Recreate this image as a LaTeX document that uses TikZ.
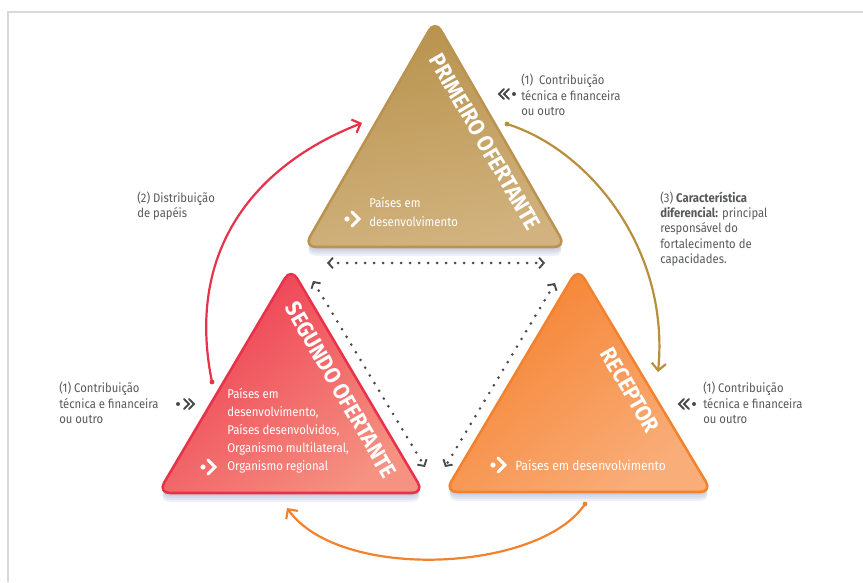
\documentclass[tikz,border=0pt]{standalone}
\usepackage{fontspec}
\setmainfont{Fira Sans}[FakeStretch=0.9]
\usetikzlibrary{arrows.meta}
\definecolor{goldA}{HTML}{B8924C}
\definecolor{goldB}{HTML}{D2B37F}
\definecolor{goldE}{HTML}{BA9350}
\definecolor{goldL}{HTML}{B8903C}
\definecolor{redA}{HTML}{EE3B51}
\definecolor{redB}{HTML}{F59281}
\definecolor{redE}{HTML}{E8324A}
\definecolor{orA}{HTML}{F5812E}
\definecolor{orB}{HTML}{F9AE7A}
\definecolor{orE}{HTML}{F3822F}
\definecolor{txtgray}{HTML}{58595B}
\definecolor{dotgray}{HTML}{4A4A4A}
\definecolor{framegray}{HTML}{DDD8D8}
\definecolor{shadowblue}{HTML}{7080B8}
\begin{document}
\begin{tikzpicture}[x=0.75pt,y=-0.75pt,
  tri/.style={line width=1.9pt, rounded corners=9pt, line join=round},
  shade/.style={fill=shadowblue, fill opacity=0.10, draw=none, rounded corners=9pt},
  sidetext/.style={text=txtgray, font=\fontsize{9.4}{11.6}\selectfont, align=left, anchor=west, inner sep=0pt},
  intext/.style={text=white, font=\fontsize{9.5}{13.6}\selectfont, align=left, anchor=west, inner sep=0pt},
  title/.style={text=white, font=\fontsize{17}{17}\selectfont\bfseries, rotate=-60, inner sep=0pt},
  dotline/.style={draw=dotgray, line width=2.2pt, line cap=round, dash pattern=on 0pt off 6.75pt,
    {Straight Barb[length=3.5pt,width=8pt,line width=1.4pt]}-{Straight Barb[length=3.5pt,width=8pt,line width=1.4pt]}},
  flow/.style={line width=1.65pt, -{Straight Barb[angle=90:7.5pt]}},
  chev/.style={draw=dotgray, line width=1.5pt, line cap=round},
  wchev/.style={draw=white, line width=2.2pt, line cap=round}
]
\useasboundingbox (0,0) rectangle (863,582);
\fill[white] (0,0) rectangle (863,582);
% frame
\draw[framegray, line width=0.8pt] (8,582) -- (8,12) -- (863,12);

% triangle vertices
\coordinate (T1) at (435,20);  \coordinate (T2) at (304,247); \coordinate (T3) at (566,247);
\coordinate (S1) at (291,268); \coordinate (S2) at (158,493); \coordinate (S3) at (424,493);
\coordinate (R1) at (578,268); \coordinate (R2) at (445,492); \coordinate (R3) at (712,492);

% shadows
\foreach \d in {3,5,7,9}{
  \path[shade] ([yshift=-\d*0.75pt]T1) -- ([yshift=-\d*0.75pt]T2) -- ([yshift=-\d*0.75pt]T3) -- cycle;
  \path[shade] ([yshift=-\d*0.75pt]S1) -- ([yshift=-\d*0.75pt]S2) -- ([yshift=-\d*0.75pt]S3) -- cycle;
  \path[shade] ([yshift=-\d*0.75pt]R1) -- ([yshift=-\d*0.75pt]R2) -- ([yshift=-\d*0.75pt]R3) -- cycle;
}

% triangles
\path[tri, draw=goldE, top color=goldA, bottom color=goldB, shading angle=10] (T1) -- (T2) -- (T3) -- cycle;
\path[tri, draw=redE, top color=redA, bottom color=redB, shading angle=40] (S1) -- (S2) -- (S3) -- cycle;
\path[tri, draw=orE, top color=orA, bottom color=orB, shading angle=40] (R1) -- (R2) -- (R3) -- cycle;

% titles
\node[title] (tP) at (485,142) {PRIMEIRO OFERTANTE};
\node[title] (tS) at (341,390) {SEGUNDO OFERTANTE};
\node[title] (tR) at (630,390) {RECEPTOR};

% inner texts
\node[intext] (iP) at (369,212) {Países em\\desenvolvimento};
\node[intext] (iS) at (227,431) {Países em\\desenvolvimento,\\Países desenvolvidos,\\Organismo multilateral,\\Organismo regional};
\node[intext, font=\fontsize{10}{12}\selectfont] (iR) at (515,465) {Países em desenvolvimento};

% white icons
\fill[white] (347,219) circle (2.6);
\draw[wchev] (352,212) -- (359,219) -- (352,226);
\fill[white] (203,467) circle (2.6);
\draw[wchev] (208,460) -- (215,467) -- (208,474);
\fill[white] (493,465) circle (2.6);
\draw[wchev] (498,458) -- (505,465) -- (498,472);

% dotted double arrows
\coordinate (dA1) at (327,263); \coordinate (dA2) at (545,263);
\coordinate (dB1) at (313,281); \coordinate (dB2) at (425,467);
\coordinate (dC1) at (555,283); \coordinate (dC2) at (445,467);
\draw[dotline] (dA1) -- (dA2);
\draw[dotline] (dB1) -- (dB2);
\draw[dotline] (dC1) -- (dC2);

% curved flows
\coordinate (rS) at (212,382); \coordinate (rE) at (362,123);
\coordinate (gS) at (507,124); \coordinate (gE) at (658,372);
\coordinate (oS) at (585,504); \coordinate (oE) at (287,508);
\fill[redE] (rS) circle (2.4);
\draw[flow, redE] (rS) .. controls (185,250) and (255,165) .. (rE);
\fill[goldL] (gS) circle (2.4);
\draw[flow, goldL] (gS) .. controls (590,150) and (670,250) .. (gE);
\fill[orE] (oS) circle (2.4);
\draw[flow, orE] (oS) .. controls (540,572) and (340,582) .. (oE);

% side texts
\node[sidetext] (n1) at (521,95) {(1)\ \ Contribuição\\técnica e financeira\\ou outro};
\node[sidetext] (n2) at (137,206) {(2) Distribuição\\de papéis};
\node[sidetext] (n3) at (660,229) {(3) \textbf{Característica}\\\textbf{diferencial:} principal\\responsável do\\fortalecimento de\\capacidades.};
\node[sidetext] (n4) at (59,403) {(1) Contribuição\\técnica e financeira\\ou outro};
\node[sidetext] (n5) at (703,403) {(1) Contribuição\\técnica e financeira\\ou outro};

% gray icons
\draw[chev] (504,89) -- (499,94) -- (504,99);
\draw[chev] (509,89) -- (504,94) -- (509,99);
\fill[dotgray] (514,94) circle (2);
\fill[dotgray] (178,404) circle (2);
\draw[chev] (184,399) -- (189,404) -- (184,409);
\draw[chev] (189,399) -- (194,404) -- (189,409);
\draw[chev] (684,399) -- (679,404) -- (684,409);
\draw[chev] (689,399) -- (684,404) -- (689,409);
\fill[dotgray] (694,404) circle (2);
\end{tikzpicture}
\end{document}
